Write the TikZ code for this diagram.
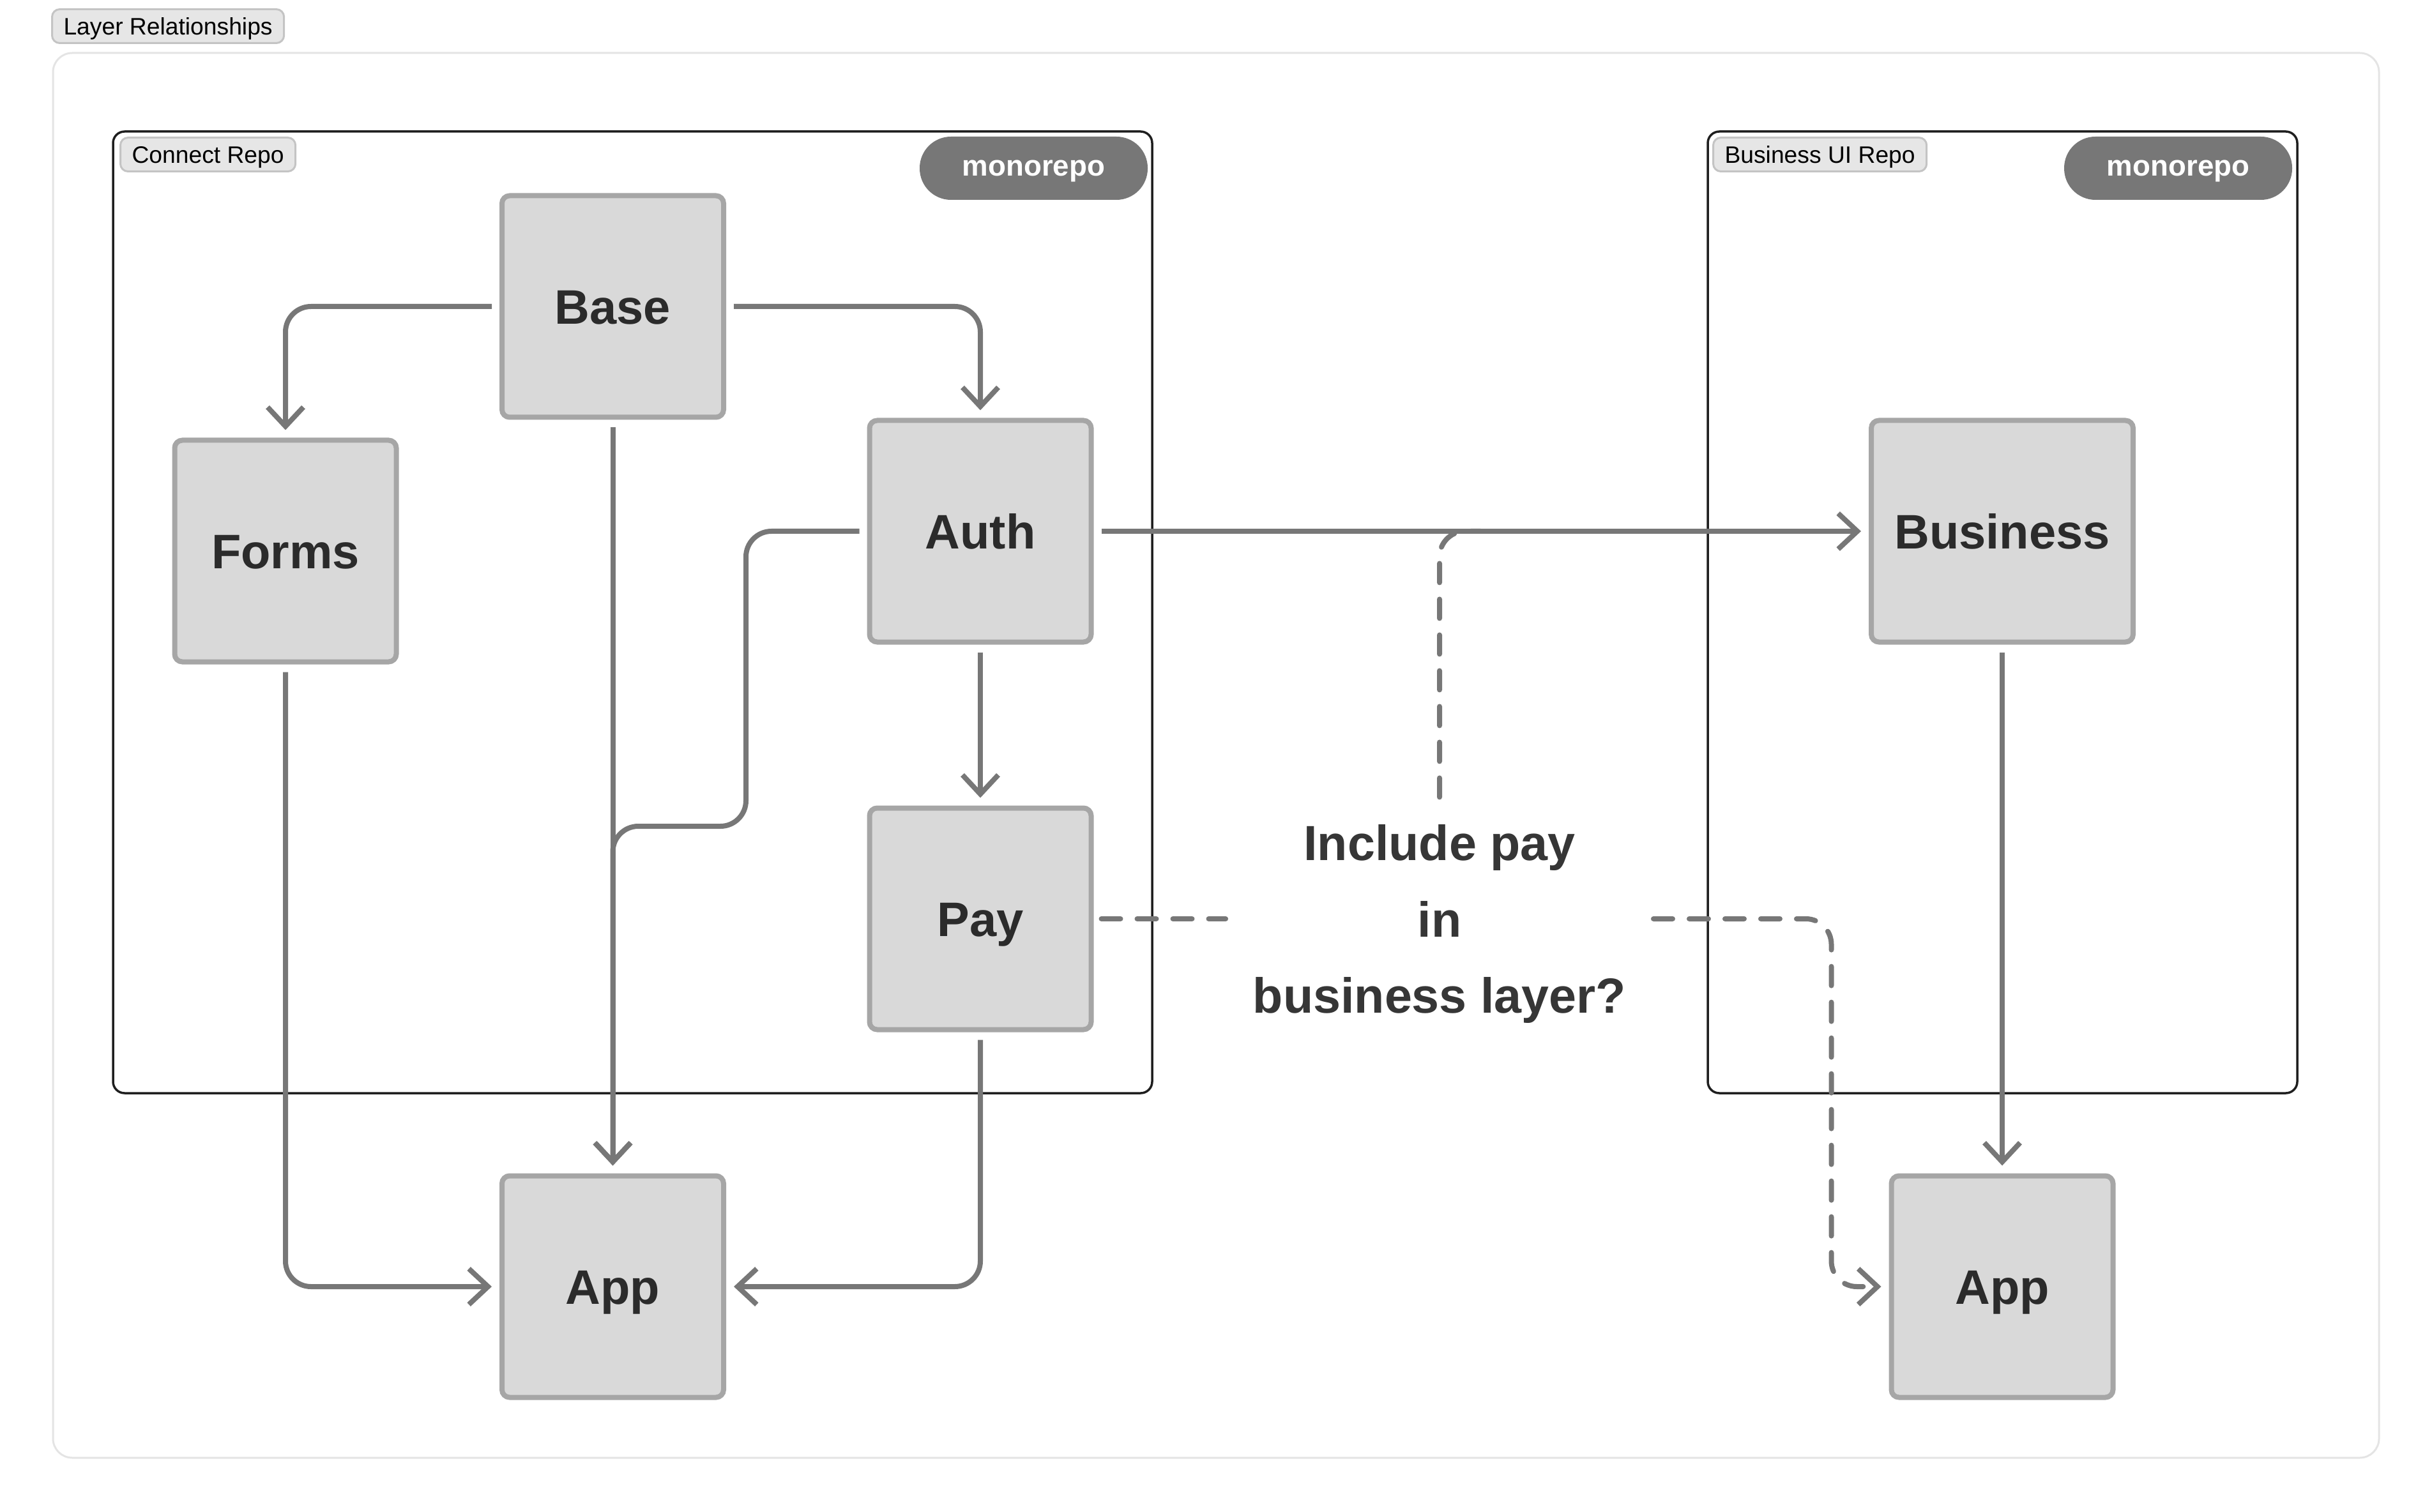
\documentclass[tikz,border=0pt]{standalone}
\usepackage{fontspec}
\setmainfont{Liberation Sans}
\usetikzlibrary{positioning,arrows.meta}

\definecolor{boxfill}{HTML}{D9D9D9}
\definecolor{boxline}{HTML}{A6A6A6}
\definecolor{wire}{HTML}{777777}
\definecolor{tagfill}{HTML}{E6E6E6}
\definecolor{tagline}{HTML}{C4C4C4}
\definecolor{ink}{HTML}{2B2B2B}
\definecolor{outer}{HTML}{E4E4E4}

\begin{document}
\begin{tikzpicture}[>={Straight Barb[length=3mm,width=5.6mm]}, on grid,
    layer node/.style={rectangle, rounded corners=1.2mm, draw=boxline, fill=boxfill, line width=0.8mm, minimum width=3.47cm, minimum height=3.47cm, outer sep=0.4mm, text=ink, text height=5.44mm, text depth=0mm, font=\fontsize{21.6}{26}\selectfont\bfseries},
    dep/.style={->, draw=wire, line width=0.8mm, rounded corners=4mm, line join=round, shorten <=1.2mm, shorten >=1.2mm},
    maybe/.style={dep, line cap=round, dash pattern=on 3mm off 2.6mm},
    tag/.style={rectangle, rounded corners=1.2mm, draw=tagline, fill=tagfill, line width=0.3mm, anchor=north west, inner xsep=1.8mm, inner ysep=0mm, minimum height=5.3mm, text height=2.67mm, text depth=0mm, font=\fontsize{10.6}{12}\selectfont},
    mono/.style={rectangle, rounded corners=4.9mm, fill=wire, text=white, minimum width=3.57cm, minimum height=0.99cm, text height=2.4mm, text depth=0mm, font=\fontsize{13}{15}\selectfont\bfseries}]

    \useasboundingbox (0,0) rectangle (38.08,-23.68);

    % frames
    \draw[outer, line width=0.3mm, rounded corners=3mm] (0.83,-0.83) rectangle (37.25,-22.83);
    \node[tag] (title) at (0.80,-0.13) {Layer Relationships};

    \draw[black!88, line width=0.35mm, rounded corners=1.8mm] (1.77,-2.06) rectangle (18.04,-17.12);
    \node[tag] (connect tag) at (1.87,-2.14) {Connect Repo};
    \node[mono] (connect mono) at (16.185,-2.635) {monorepo};

    \draw[black!88, line width=0.35mm, rounded corners=1.8mm] (26.74,-2.06) rectangle (35.97,-17.12);
    \node[tag] (business tag) at (26.81,-2.14) {Business UI Repo};
    \node[mono] (business mono) at (34.105,-2.635) {monorepo};

    % layers
    \node[layer node] (base) at (9.595,-4.80) {Base};
    \node[layer node] (forms) [below left=3.83cm and 5.125cm of base] {Forms};
    \node[layer node] (auth) [below right=3.52cm and 5.755cm of base] {Auth};
    \node[layer node] (pay) [below=6.07cm of auth] {Pay};
    \node[layer node] (app) [below=15.35cm of base] {App};
    \node[layer node, minimum width=4.10cm] (business) [right=16cm of auth] {Business};
    \node[layer node] (app2) [below=11.83cm of business] {App};

    \node[align=center, inner sep=3mm, text=ink!95, text depth=0mm, font=\fontsize{22}{34.1}\selectfont\bfseries] (question) [right=7.19cm of pay] {Include pay\\in\\business layer?};
    \coordinate (tap) at (23.3,-8.32);

    % open question
    \draw[maybe, -] (question.north) |- (tap);
    \draw[maybe, -] (pay.east) -- (question.west);
    \draw[maybe] (question.east) -| ([xshift=-9mm]app2.west) -- (app2.west);

    % dependencies
    \draw[dep] (base.west) -| (forms.north);
    \draw[dep] (base.east) -| (auth.north);
    \draw[dep] (base.south) -- (app.north);
    \draw[dep] (auth.west) -| (11.68,-12.94) -| (app.north);
    \draw[dep] (auth.east) -- (business.west);
    \draw[dep] (auth) -- (pay);
    \draw[dep] (forms.south) |- (app.west);
    \draw[dep] (pay.south) |- (app.east);
    \draw[dep] (business) -- (app2);
\end{tikzpicture}
\end{document}
